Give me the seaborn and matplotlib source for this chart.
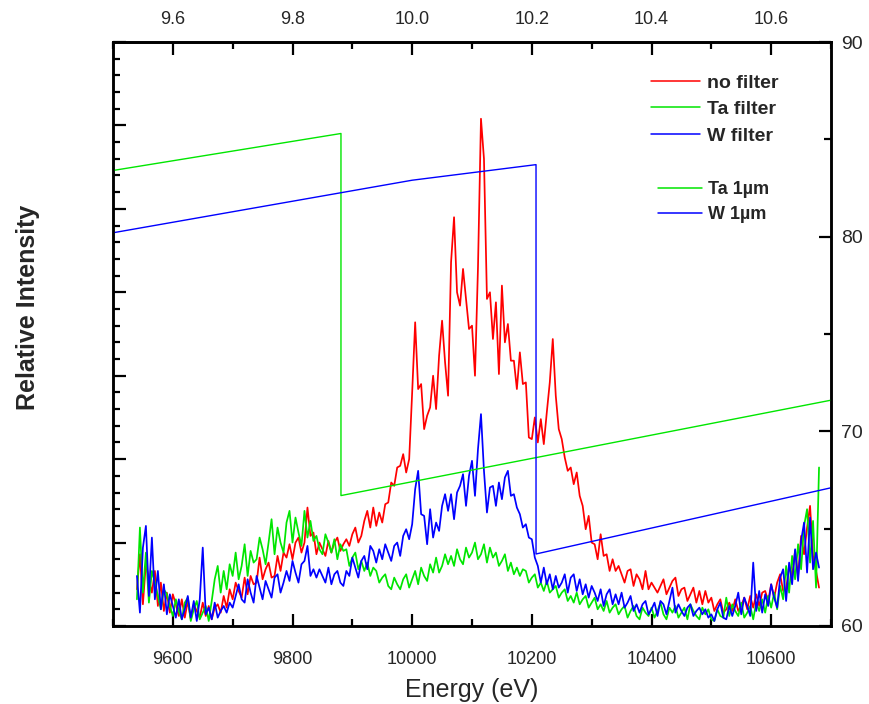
import numpy as np
import pandas as pd
import matplotlib
matplotlib.use("Agg")
import matplotlib.pyplot as plt
from matplotlib.ticker import MultipleLocator, FixedLocator, NullFormatter
from matplotlib.lines import Line2D
import seaborn as sns

# Energy grid of the spectra (eV), 5 eV steps
energy = np.arange(9540, 10681, 5)

# Spectra in relative units (left axis)
no_filter = [
    2.2, 4.3, 1.3, 3.8, 2.8, 2.0, 3.3, 1.2, 2.6, 0.9,
    2.0, 0.8, 1.9, 1.3, 0.6, 1.6, 0.5, 1.5, 0.4, 1.3,
    0.9, 0.5, 1.4, 0.6, 1.2, 0.4, 1.1, 1.3, 0.8, 1.8,
    1.1, 2.2, 1.6, 2.6, 2.1, 1.7, 2.9, 1.9, 3.0, 2.5,
    2.6, 4.1, 2.8, 3.4, 3.8, 2.9, 3.0, 4.2, 3.3, 4.4,
    4.1, 4.9, 4.0, 5.0, 5.3, 4.4, 5.0, 7.1, 5.4, 5.6,
    4.3, 5.0, 4.6, 4.2, 5.1, 4.4, 5.0, 5.3, 4.5, 4.9,
    5.2, 4.8, 5.5, 5.9, 5.0, 5.4, 6.3, 6.9, 5.9, 7.1,
    6.0, 6.8, 6.2, 7.3, 7.4, 8.6, 8.4, 9.5, 9.6, 10.3,
    9.2, 10.0, 14.0, 18.2, 14.2, 14.5, 11.8, 12.6, 13.1, 15.0,
    13.0, 16.2, 18.3, 15.8, 13.8, 21.8, 24.5, 20.0, 19.2, 21.4,
    19.6, 17.8, 18.0, 15.0, 21.5, 30.4, 28.0, 19.6, 20.0, 17.2,
    19.4, 15.1, 20.4, 17.0, 18.1, 15.9, 15.9, 14.2, 16.4, 14.5,
    14.6, 11.3, 11.2, 12.5, 11.0, 12.4, 10.9, 12.8, 14.6, 17.2,
    13.8, 11.8, 11.2, 10.1, 9.3, 9.5, 8.5, 9.2, 7.8, 7.2,
    5.8, 6.6, 5.0, 4.9, 4.0, 5.5, 4.2, 4.3, 3.3, 4.0,
    3.3, 3.6, 3.1, 2.6, 3.3, 3.4, 2.4, 3.1, 2.8, 2.2,
    3.3, 2.2, 2.6, 2.3, 2.0, 2.4, 2.8, 1.9, 2.3, 2.7,
    2.9, 1.8, 2.2, 2.3, 1.5, 1.9, 2.3, 1.4, 2.1, 1.3,
    2.1, 1.4, 1.7, 0.9, 1.3, 1.6, 0.8, 1.0, 1.4, 0.9,
    1.6, 0.9, 1.2, 1.7, 1.0, 1.8, 1.1, 1.9, 1.2, 2.0,
    2.1, 1.5, 2.5, 1.7, 2.6, 3.1, 2.1, 2.2, 3.6, 3.0,
    4.5, 3.0, 5.4, 4.3, 5.9, 7.2, 4.2, 3.3, 2.3,
]

ta_filter = [
    1.6, 5.9, 2.0, 4.4, 1.4, 3.3, 2.6, 1.8, 1.0, 2.2,
    1.9, 1.2, 0.6, 1.6, 0.9, 0.4, 1.4, 1.7, 0.3, 1.0,
    1.5, 0.4, 0.8, 1.2, 0.3, 1.5, 2.8, 3.6, 2.0, 3.3,
    2.2, 3.7, 3.0, 4.4, 2.8, 3.6, 4.9, 3.0, 4.5, 3.8,
    4.0, 5.3, 4.6, 3.7, 5.0, 6.4, 4.3, 5.9, 5.0, 4.4,
    6.2, 6.9, 5.0, 6.5, 5.6, 4.8, 6.9, 5.3, 6.3, 5.1,
    5.4, 4.6, 4.3, 5.5, 5.0, 4.4, 5.2, 4.0, 4.9, 4.5,
    4.6, 3.6, 4.1, 4.4, 3.4, 3.9, 3.3, 3.8, 3.0, 3.5,
    3.3, 2.6, 2.9, 3.1, 2.4, 2.2, 2.9, 2.5, 2.2, 2.8,
    3.1, 2.3, 2.8, 3.3, 2.5, 3.5, 3.0, 2.7, 3.7, 3.2,
    4.1, 3.2, 3.6, 4.3, 3.7, 4.2, 3.6, 4.6, 4.0, 3.7,
    4.7, 4.1, 4.4, 5.0, 4.0, 4.3, 4.9, 3.8, 4.7, 4.1,
    4.4, 3.6, 3.9, 4.3, 3.3, 3.8, 3.1, 3.5, 3.0, 3.4,
    3.3, 2.6, 2.9, 3.1, 2.3, 2.6, 2.1, 2.7, 2.0, 2.2,
    2.4, 1.7, 2.0, 2.2, 1.5, 1.8, 1.4, 2.0, 1.3, 1.6,
    1.8, 1.1, 1.4, 1.7, 1.0, 1.3, 0.9, 1.5, 0.8, 1.1,
    1.3, 0.7, 1.0, 1.2, 0.5, 0.9, 1.2, 0.6, 0.4, 1.1,
    0.8, 0.6, 1.1, 0.5, 0.9, 1.4, 0.7, 0.4, 1.1, 0.8,
    1.2, 0.5, 0.8, 1.1, 0.4, 1.3, 0.9, 0.6, 0.4, 1.1,
    0.7, 1.0, 0.4, 0.3, 1.0, 0.6, 0.5, 1.7, 0.6, 1.3,
    0.9, 0.6, 1.4, 0.5, 0.8, 1.2, 0.4, 1.4, 0.9, 1.6,
    0.8, 1.8, 1.1, 2.0, 1.0, 2.4, 1.6, 3.6, 2.0, 4.2,
    2.8, 4.9, 3.4, 6.0, 7.0, 3.8, 6.3, 2.3, 9.5,
]

w_filter = [
    3.0, 0.8, 4.7, 6.0, 1.8, 5.3, 1.6, 3.3, 1.0, 2.5,
    0.7, 1.9, 1.2, 0.5, 1.6, 0.4, 1.0, 1.8, 0.5, 1.5,
    0.3, 1.6, 4.7, 0.7, 1.1, 0.4, 1.4, 0.5, 0.9, 1.2,
    0.8, 1.4, 1.1, 1.8, 2.5, 1.6, 1.4, 2.8, 2.0, 1.4,
    3.0, 2.3, 1.6, 2.7, 2.2, 1.7, 2.9, 3.1, 2.0, 2.6,
    3.3, 2.7, 3.9, 3.2, 2.6, 3.7, 3.9, 4.8, 3.0, 3.4,
    2.9, 3.4, 3.0, 2.6, 3.5, 2.5, 3.1, 3.3, 2.6, 2.4,
    3.3, 3.0, 4.1, 3.5, 2.9, 3.9, 4.2, 3.4, 4.8, 4.5,
    3.8, 4.6, 4.0, 4.9, 4.4, 3.9, 4.8, 5.0, 4.2, 5.4,
    5.8, 5.2, 6.1, 8.2, 9.3, 6.7, 6.6, 4.9, 7.0, 5.3,
    6.2, 5.7, 7.2, 7.9, 6.9, 7.9, 6.4, 8.0, 8.4, 9.1,
    7.2, 9.0, 9.9, 7.8, 10.6, 12.7, 9.3, 6.8, 8.3, 8.4,
    7.2, 8.6, 7.6, 8.9, 9.3, 7.8, 7.9, 7.1, 6.7, 5.9,
    6.1, 5.3, 5.2, 4.1, 3.6, 2.6, 3.5, 2.5, 3.1, 2.2,
    3.0, 2.3, 2.6, 3.1, 2.0, 2.9, 3.1, 2.1, 2.8, 1.9,
    2.5, 1.7, 2.4, 2.0, 1.5, 2.2, 1.2, 1.9, 2.2, 1.3,
    1.9, 1.3, 2.0, 1.1, 1.4, 1.8, 0.9, 1.3, 0.8, 1.3,
    1.5, 0.7, 1.0, 1.4, 0.6, 1.5, 1.3, 0.7, 1.5, 2.3,
    0.8, 1.3, 0.9, 0.6, 1.1, 1.3, 0.6, 0.9, 1.1, 0.7,
    1.0, 0.5, 0.7, 0.3, 1.0, 1.4, 0.5, 0.4, 1.2, 0.6,
    1.2, 2.0, 0.7, 1.7, 1.2, 0.6, 3.8, 0.9, 2.1, 0.8,
    1.9, 1.2, 2.5, 1.7, 1.1, 2.9, 3.4, 1.5, 3.8, 2.5,
    4.6, 2.7, 5.1, 6.2, 3.2, 6.5, 3.4, 4.4, 3.5,
]

# 1 um foil transmission curves (right axis)
ta_energy = [9500, 9881, 9881, 10700]
ta_trans = [83.4, 85.3, 66.7, 71.6]
w_energy = [9500, 10000, 10207, 10207, 10700]
w_trans = [80.2, 82.9, 83.7, 63.7, 67.1]

spectra_labels = ["no filter", "Ta filter", "W filter"]
foil_labels = ["Ta 1\u00b5m", "W 1\u00b5m"]
colors = {"no filter": "#ff0000", "Ta filter": "#00e600", "W filter": "#0000ff"}

bottom_ticks = [9600, 9800, 10000, 10200, 10400, 10600]
top_ticks = [9.6, 9.8, 10.0, 10.2, 10.4, 10.6]
right_ticks = [60, 70, 80, 90]

spectra = pd.DataFrame({
    "Energy": np.concatenate([energy, energy, energy]),
    "Intensity": np.concatenate([no_filter, ta_filter, w_filter]),
    "Sample": np.repeat(spectra_labels, len(energy)),
})
foils = pd.DataFrame({
    "Energy": ta_energy + w_energy,
    "Transmission": ta_trans + w_trans,
    "Foil": [foil_labels[0]] * len(ta_energy) + [foil_labels[1]] * len(w_energy),
})

sns.set_theme(style="ticks")
plt.rcParams["font.family"] = ["Liberation Sans", "DejaVu Sans"]
plt.rcParams["axes.linewidth"] = 1.8

fig = plt.figure(figsize=(8.69, 7.04), dpi=100)
ax = fig.add_axes([113 / 869, 78 / 704, 718 / 869, 584 / 704])

sns.lineplot(data=spectra, x="Energy", y="Intensity", hue="Sample",
             palette=colors, hue_order=spectra_labels, estimator=None,
             sort=False, linewidth=1.25, legend=False, ax=ax)

ax.set_xlim(9500, 10700)
ax.set_ylim(0, 35)
ax.xaxis.set_major_locator(FixedLocator(bottom_ticks))
ax.xaxis.set_minor_locator(MultipleLocator(100))
ax.yaxis.set_major_locator(MultipleLocator(5))
ax.yaxis.set_minor_locator(MultipleLocator(1))
ax.yaxis.set_major_formatter(NullFormatter())
ax.set_xlabel("")
ax.set_ylabel("")
ax.tick_params(axis="both", which="both", direction="in", color="black",
               top=False, right=False)
ax.tick_params(axis="both", which="major", length=9, width=1.6)
ax.tick_params(axis="both", which="minor", length=5, width=1.6)
ax.tick_params(axis="x", which="major", labelsize=13, pad=18)
for s in ax.spines.values():
    s.set_color("black")
    s.set_linewidth(1.8)

# Top axis in keV
secax = ax.secondary_xaxis("top", functions=(lambda e: e / 1000.0, lambda k: k * 1000.0))
secax.xaxis.set_major_locator(FixedLocator(top_ticks))
secax.xaxis.set_minor_locator(MultipleLocator(0.1))
secax.set_xticklabels([f"{t:.1f}" for t in top_ticks])
secax.tick_params(axis="x", which="both", direction="in", color="black")
secax.tick_params(axis="x", which="major", length=9, width=1.6, labelsize=13, pad=10)
secax.tick_params(axis="x", which="minor", length=5, width=1.6)
secax.spines["top"].set_linewidth(1.8)

# Right axis with foil transmission
ax2 = ax.twinx()
sns.lineplot(data=foils, x="Energy", y="Transmission", hue="Foil",
             palette={foil_labels[0]: "#00e600", foil_labels[1]: "#0000ff"},
             hue_order=foil_labels, estimator=None, sort=False,
             linewidth=1.0, legend=False, ax=ax2)
ax2.set_ylim(60, 90)
ax2.set_xlim(9500, 10700)
ax2.yaxis.set_major_locator(FixedLocator(right_ticks))
ax2.yaxis.set_minor_locator(MultipleLocator(5))
ax2.set_ylabel("")
ax2.set_xlabel("")
ax2.tick_params(axis="y", which="both", direction="in", color="black")
ax2.tick_params(axis="y", which="major", length=9, width=1.6, labelsize=14, pad=7)
ax2.tick_params(axis="y", which="minor", length=5, width=1.6)
for s in ax2.spines.values():
    s.set_color("black")
    s.set_linewidth(1.8)

fig.text(472 / 869, 1 - 690 / 704, "Energy (eV)", ha="center", va="center", fontsize=18)
fig.text(28 / 869, 1 - 307 / 704, "Relative Intensity", ha="center", va="center",
         rotation=90, fontsize=18, fontweight="bold")

handles1 = [Line2D([], [], color=colors[k], lw=1.1) for k in spectra_labels]
leg1 = ax2.legend(handles1, spectra_labels, loc="upper left",
                  bbox_to_anchor=(651 / 869, 1 - 74 / 704), bbox_transform=fig.transFigure,
                  frameon=False, borderpad=0, borderaxespad=0, handlelength=2.5,
                  handletextpad=0.36, labelspacing=0.46,
                  prop={"size": 14, "weight": "bold"})
ax2.add_artist(leg1)
handles2 = [Line2D([], [], color=c, lw=1.1) for c in ("#00e600", "#0000ff")]
ax2.legend(handles2, foil_labels, loc="upper left",
           bbox_to_anchor=(658 / 869, 1 - 181 / 704), bbox_transform=fig.transFigure,
           frameon=False, borderpad=0, borderaxespad=0, handlelength=2.45,
           handletextpad=0.33, labelspacing=0.45,
           prop={"size": 13, "weight": "bold"})

fig.savefig("out.png", dpi=100)
